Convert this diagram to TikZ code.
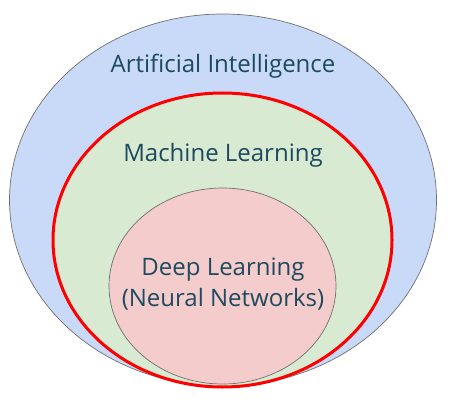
\documentclass[tikz,border=0pt]{standalone}
\usepackage{fontspec}
\setmainfont{Open Sans}
\usepackage{tikz}
\usetikzlibrary{shapes.geometric,positioning}
\definecolor{cAI}{HTML}{C9DAF8}
\definecolor{cML}{HTML}{D9EAD3}
\definecolor{cDL}{HTML}{F4CCCC}
\definecolor{cEdge}{HTML}{707070}
\definecolor{cRing}{HTML}{FF0000}
\definecolor{cText}{HTML}{1D4A5E}
\tikzset{
  field/.style={draw=cEdge, line width=0.7pt, ellipse, inner sep=0pt},
  tag/.style  ={text=cText, font=\fontsize{24}{31}\selectfont, align=center, inner sep=0pt},
}

\begin{document}
\begin{tikzpicture}[x=1pt,y=-1pt]
        \useasboundingbox (0,0) rectangle (457,401);
        \node[field, fill=cAI, minimum width=427pt, minimum height=372pt] (ai) at (223,200){};
        \node[field, fill=cML, draw=cRing, line width=3pt, minimum width=339pt, minimum height=294pt] (ml) at (222.5,240){};
        \node[field, fill=cDL, minimum width=227pt, minimum height=196pt] (dl) at (222.5,286){};
        \node[tag] (tai) at (223,66){Artificial Intelligence};
        \node[tag] (tml) at (223,155){Machine Learning};
        \node[tag] (tdl) at (223,284){Deep Learning\\(Neural Networks)};
      \end{tikzpicture}
\end{document}
